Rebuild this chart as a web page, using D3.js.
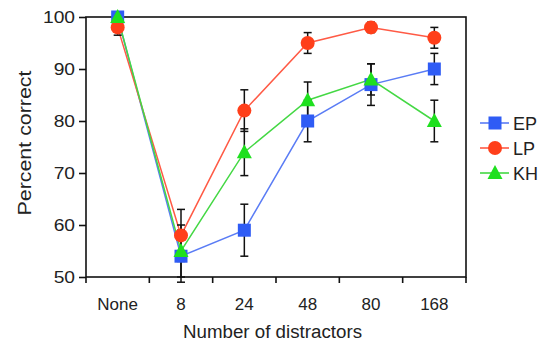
<!DOCTYPE html>
<html><head><meta charset="utf-8">
<script src="https://cdn.jsdelivr.net/npm/d3@7"></script>
<style>body{margin:0;background:#fff}svg{display:block}text{font-family:"Liberation Sans",Arial,sans-serif;fill:#222}</style>
</head><body><svg id="c" width="546" height="343"></svg>
<script>
const categories = ["None","8","24","48","80","168"];
const yTicks = [50,60,70,80,90,100];
const seriesNames = ["EP","LP","KH"];
const epValues = [100,54,59,80,87,90];
const epErrors = [0,5,5,4,4,3];
const lpValues = [98,58,82,95,98,96];
const lpErrors = [1.5,5,4,2,1,2];
const khValues = [100,55,74,84,88,80];
const khErrors = [0,5,4.5,3.5,3,4];

const colors = {EP:"#2f5cf5", LP:"#ff3f1a", KH:"#1fe01f"};
const lineColors = {EP:"#5a7cf5", LP:"#ff5a45", KH:"#44d844"};
const series = [
  {name:"EP", values:epValues, errors:epErrors, shape:"square"},
  {name:"LP", values:lpValues, errors:lpErrors, shape:"circle"},
  {name:"KH", values:khValues, errors:khErrors, shape:"triangle"}
];

const svg = d3.select("#c");
const L=86, R=466, T=17, B=277;
const x = d3.scaleBand().domain(categories).range([L,R]).padding(0);
const y = d3.scaleLinear().domain([50,100]).range([B,T]);
const cx = c => x(c)+x.bandwidth()/2;

// frame
svg.append("rect").attr("x",L).attr("y",T).attr("width",R-L).attr("height",B-T)
  .attr("fill","none").attr("stroke","#111").attr("stroke-width",1.6);

// y axis
const ya = svg.append("g").attr("transform",`translate(${L},0)`)
  .call(d3.axisLeft(y).tickValues(yTicks).tickSize(7).tickPadding(4));
ya.select(".domain").remove();
ya.selectAll("line").attr("stroke","#111").attr("stroke-width",1.6);
ya.selectAll("text").attr("font-size",16).style("font-family","'Liberation Sans',Arial,sans-serif").attr("fill","#222")
  .each(function(){ const w=this.getComputedTextLength(); d3.select(this).attr("textLength",w*1.2).attr("lengthAdjust","spacingAndGlyphs"); });

// x axis: ticks at band boundaries
const bounds = categories.map(c=>x(c)).concat([R]);
const xa = svg.append("g").attr("transform",`translate(0,${B})`);
xa.selectAll("line").data(bounds).join("line")
  .attr("x1",d=>d).attr("x2",d=>d).attr("y1",0).attr("y2",6)
  .attr("stroke","#111").attr("stroke-width",1.6);
xa.selectAll("text").data(categories).join("text")
  .attr("x",d=>cx(d)).attr("y",33).attr("text-anchor","middle")
  .attr("font-size",17).text(d=>d);

// axis titles
svg.append("text").attr("transform",`translate(31,143) rotate(-90)`)
  .attr("text-anchor","middle").attr("font-size",17.5)
  .attr("textLength",145).attr("lengthAdjust","spacingAndGlyphs").text("Percent correct");
svg.append("text").attr("x",272.5).attr("y",338).attr("text-anchor","middle")
  .attr("font-size",18).attr("textLength",179).attr("lengthAdjust","spacingAndGlyphs").text("Number of distractors");

// lines
const line = d3.line().x((d,i)=>cx(categories[i])).y(d=>y(d));
series.forEach(s=>{
  svg.append("path").datum(s.values).attr("d",line).attr("fill","none")
    .attr("stroke",lineColors[s.name]).attr("stroke-width",1.5);
});

// error bars
series.forEach(s=>{
  const g = svg.append("g");
  s.values.forEach((v,i)=>{
    const e = s.errors[i]; if(!e) return;
    const px = cx(categories[i]);
    g.append("line").attr("x1",px).attr("x2",px).attr("y1",y(v+e)).attr("y2",y(v-e)).attr("stroke","#111").attr("stroke-width",1.5);
    [v+e,v-e].forEach(t=>g.append("line").attr("x1",px-4).attr("x2",px+4).attr("y1",y(t)).attr("y2",y(t)).attr("stroke","#111").attr("stroke-width",1.5));
  });
});

function marker(g, shape, px, py, col){
  if(shape==="square") g.append("rect").attr("x",px-6.5).attr("y",py-6.5).attr("width",13).attr("height",13).attr("fill",col);
  else if(shape==="circle") g.append("circle").attr("cx",px).attr("cy",py).attr("r",7).attr("fill",col);
  else g.append("path").attr("d",`M${px},${py-8}L${px+7.5},${py+6}L${px-7.5},${py+6}Z`).attr("fill",col);
}
series.forEach(s=>{
  const g = svg.append("g");
  s.values.forEach((v,i)=>marker(g,s.shape,cx(categories[i]),y(v),colors[s.name]));
});

// legend
const legY = [123,148,173];
series.forEach((s,i)=>{
  const g = svg.append("g");
  g.append("line").attr("x1",480).attr("x2",509).attr("y1",legY[i]).attr("y2",legY[i]).attr("stroke",lineColors[s.name]).attr("stroke-width",1.6);
  marker(g,s.shape,495,legY[i],colors[s.name]);
  g.append("text").attr("x",513).attr("y",legY[i]+6.5).attr("font-size",18).text(s.name);
});
</script></body></html>
